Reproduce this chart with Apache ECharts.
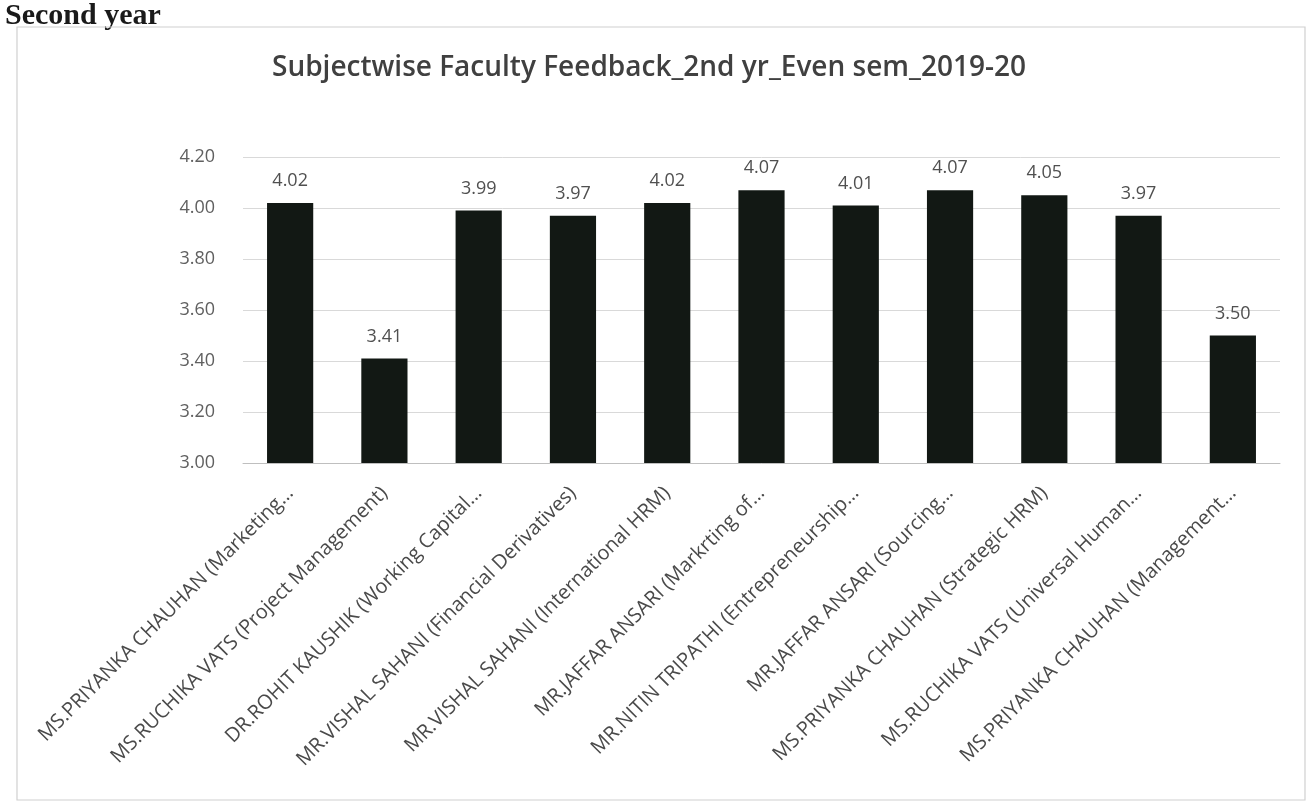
<!DOCTYPE html>
<html>
<head>
<meta charset="utf-8">
<script src="https://cdn.jsdelivr.net/npm/echarts@6/dist/echarts.min.js"></script>
<style>
  html, body { margin: 0; padding: 0; background: #ffffff; }
  #chart { width: 1316px; height: 805px; }
</style>
</head>
<body>
<div id="chart"></div>
<script>
// Faculty names with (truncated) subjects, one bar each
const categories = [
  'MS.PRIYANKA CHAUHAN (Marketing…',
  'MS.RUCHIKA VATS (Project Management)',
  'DR.ROHIT KAUSHIK (Working Capital…',
  'MR.VISHAL SAHANI (Financial Derivatives)',
  'MR.VISHAL SAHANI (International HRM)',
  'MR.JAFFAR ANSARI (Markrting of…',
  'MR.NITIN TRIPATHI (Entrepreneurship…',
  'MR.JAFFAR ANSARI (Sourcing…',
  'MS.PRIYANKA CHAUHAN (Strategic HRM)',
  'MS.RUCHIKA VATS (Universal Human…',
  'MS.PRIYANKA CHAUHAN (Management…'
];
const scores = [4.02, 3.41, 3.99, 3.97, 4.02, 4.07, 4.01, 4.07, 4.05, 3.97, 3.50];
const yTicks = { min: 3.0, max: 4.2, step: 0.2 };

const chart = echarts.init(document.getElementById('chart'));
chart.setOption({
  backgroundColor: '#ffffff',
  animation: false,
  graphic: [
    {
      type: 'text', left: 5, top: 1,
      style: { text: 'Second year', font: 'bold 30px "Liberation Serif", serif', fill: '#1a1a1a' }
    },
    {
      type: 'rect', shape: { x: 17, y: 27, width: 1288, height: 773 },
      style: { fill: 'none', stroke: '#d0d0d0', lineWidth: 1.2 }
    }
  ],
  title: {
    text: 'Subjectwise Faculty Feedback_2nd yr_Even sem_2019-20',
    left: 644, top: 49, textAlign: 'center',
    textStyle: { fontFamily: 'Open Sans', fontSize: 28, fontWeight: 600, color: '#404040' }
  },
  grid: { left: 243, right: 36, top: 157, bottom: 342 },
  xAxis: {
    type: 'category',
    data: categories,
    axisLine: { lineStyle: { color: '#bfbfbf' } },
    axisTick: { show: false },
    axisLabel: {
      interval: 0, rotate: 45, color: '#4a4a4a',
      fontFamily: 'Open Sans', fontSize: 20, margin: 27
    }
  },
  yAxis: {
    type: 'value',
    min: yTicks.min, max: yTicks.max, interval: yTicks.step,
    axisLine: { show: false },
    axisTick: { show: false },
    splitLine: { lineStyle: { color: '#d9d9d9' } },
    axisLabel: {
      color: '#606060', fontFamily: 'Open Sans', fontSize: 18, margin: 28,
      formatter: v => v.toFixed(2)
    }
  },
  series: [{
    type: 'bar',
    data: scores,
    barWidth: '49%',
    itemStyle: { color: '#121814' },
    label: {
      show: true, position: 'top', distance: 13,
      color: '#505050', fontFamily: 'Open Sans', fontSize: 18,
      formatter: p => p.value.toFixed(2)
    }
  }]
});
</script>
</body>
</html>
